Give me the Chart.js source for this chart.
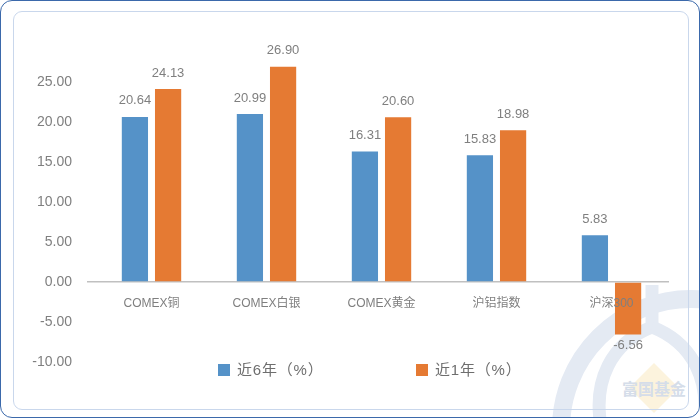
<!DOCTYPE html>
<html>
<head>
<meta charset="utf-8">
<script src="https://cdn.jsdelivr.net/npm/chart.js@4.4.0/dist/chart.umd.min.js"></script>
<style>
  html, body { margin: 0; padding: 0; background: #fff; }
  #frame {
    position: absolute; left: 0; top: 0; width: 700px; height: 418px;
    box-sizing: border-box; border: 1.5px solid #3b69ab; border-radius: 12px;
    overflow: hidden; background: #fff;
  }
  #inner {
    position: absolute; left: 12px; top: 10px; width: 674px; height: 397px;
    border: 1.5px solid #c9d7ec; border-radius: 9px;
  }
  #mark { position: absolute; left: 0; top: 0; }
  #chart { position: absolute; left: 0; top: 0; }
  .legend {
    position: absolute; top: 360px; font: 15px "Liberation Sans", "Noto Sans CJK SC", sans-serif;
    color: #6e6e6e; white-space: nowrap; line-height: 17px; letter-spacing: 0.8px;
  }
  .legend i {
    display: inline-block; width: 12px; height: 12px; vertical-align: -1px; margin-right: 7px;
  }
</style>
</head>
<body>
<div id="frame">
  <svg id="mark" width="700" height="419">
    <circle cx="690" cy="428" r="130" fill="none" stroke="#e4eaf3" stroke-width="18"/>
    <path d="M651,284 L651,326 C610,342 592,380 600,425" fill="none" stroke="#e4eaf3" stroke-width="13"/>
    <path d="M651,326 C692,342 710,380 702,425" fill="none" stroke="#e4eaf3" stroke-width="13"/>
    <polygon points="653,362 678,387 653,412 628,387" fill="#fcf3dd"/>
    <text x="653" y="394" text-anchor="middle" font-family="Noto Sans CJK SC" font-weight="bold" font-size="16" fill="#d5dde9">富国基金</text>
  </svg>
  <div id="inner"></div>
  <canvas id="chart" width="700" height="419"></canvas>
  <div class="legend" id="leg1" style="left:217px"><i style="background:#5592c8"></i>近6年（%）</div>
  <div class="legend" id="leg2" style="left:415px"><i style="background:#e57a33"></i>近1年（%）</div>
</div>
<script>
const categories = ['COMEX铜', 'COMEX白银', 'COMEX黄金', '沪铝指数', '沪深300'];
const seriesNames = ['近6年（%）', '近1年（%）'];
const sixYear = [20.64, 20.99, 16.31, 15.83, 5.83];
const oneYear = [24.13, 26.90, 20.60, 18.98, -6.56];
const yTicks = [-10, -5, 0, 5, 10, 15, 20, 25];

const colors = ['#5592c8', '#e57a33'];

Chart.defaults.font.family = '"Liberation Sans", "Noto Sans CJK SC", sans-serif';
Chart.defaults.color = '#7f7f7f';

// value labels above / below each bar
const valueLabels = {
  id: 'valueLabels',
  afterDatasetsDraw(chart) {
    const ctx = chart.ctx;
    ctx.save();
    ctx.font = '13px "Liberation Sans", "Noto Sans CJK SC", sans-serif';
    ctx.fillStyle = '#7f7f7f';
    ctx.textAlign = 'center';
    ctx.textBaseline = 'middle';
    chart.data.datasets.forEach((ds, i) => {
      chart.getDatasetMeta(i).data.forEach((bar, j) => {
        const v = ds.data[j];
        const y = v >= 0 ? bar.y - 16 : bar.y + 11;
        ctx.fillText(v.toFixed(2), bar.x, y);
      });
    });
    ctx.restore();
  }
};

new Chart(document.getElementById('chart'), {
  type: 'bar',
  data: {
    labels: categories,
    datasets: [
      { label: seriesNames[0], data: sixYear, backgroundColor: colors[0], borderWidth: 0 },
      { label: seriesNames[1], data: oneYear, backgroundColor: colors[1], borderWidth: 0 }
    ]
  },
  options: {
    responsive: false,
    animation: false,
    categoryPercentage: 0.577,
    barPercentage: 0.79,
    layout: { padding: { left: 0, right: 32, top: 41, bottom: 58 } },
    plugins: {
      legend: { display: false },
      tooltip: { enabled: false }
    },
    scales: {
      x: {
        position: { y: 0 },
        grid: { display: false, drawTicks: false },
        border: { display: false },
        ticks: { z: 1, padding: 14, color: '#7f7f7f', font: { size: 12 } }
      },
      y: {
        min: -10,
        max: 30,
        afterBuildTicks: (s) => { s.ticks = yTicks.map(v => ({ value: v })); },
        afterFit: (s) => { s.width = 93; },
        grid: {
          drawTicks: true,
          tickLength: 7,
          color: (c) => (c.tick && c.tick.value === 0 ? '#c0c0c0' : 'rgba(0,0,0,0)'),
          lineWidth: 1.5
        },
        border: { display: false },
        ticks: {
          padding: 15,
          color: '#7f7f7f',
          font: { size: 14 },
          callback: (v) => Number(v).toFixed(2)
        }
      }
    }
  },
  plugins: [valueLabels]
});
</script>
</body>
</html>
